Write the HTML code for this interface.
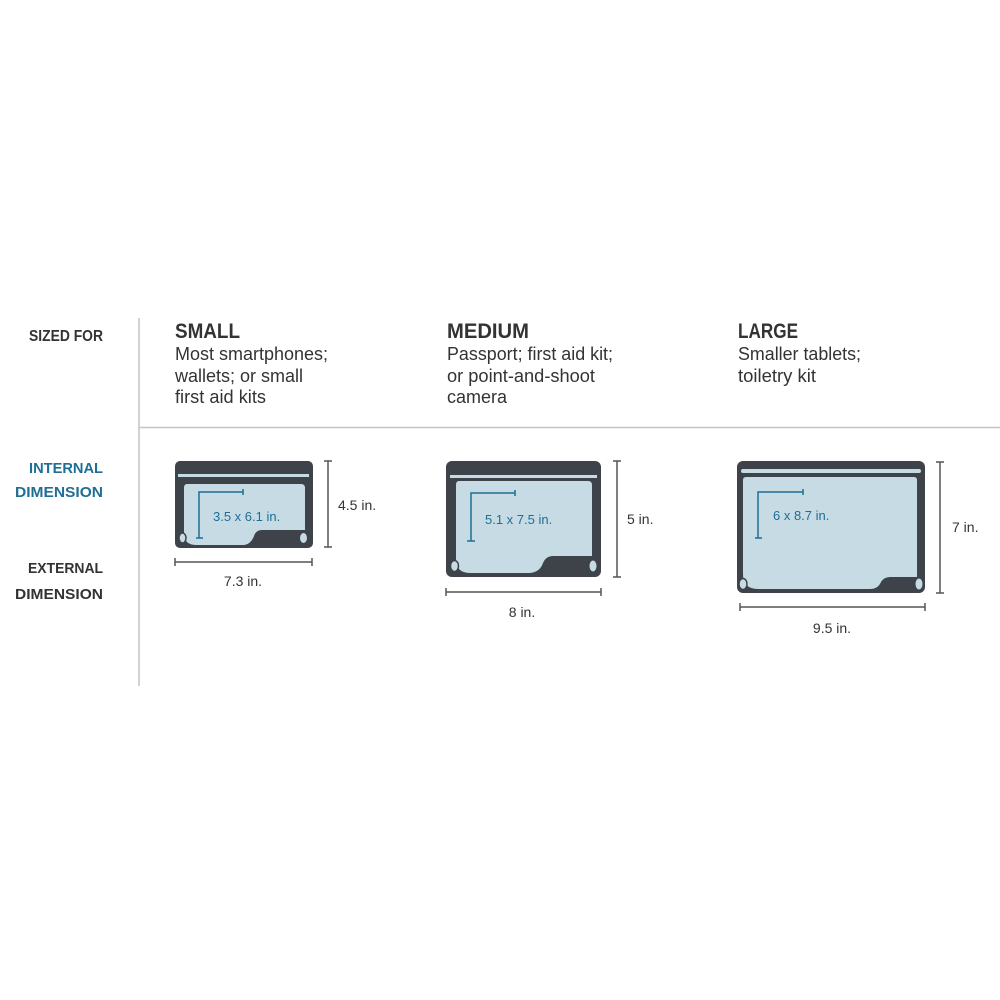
<!DOCTYPE html>
<html><head><style>
html,body{margin:0;padding:0;background:#fff;}
svg{display:block}
text{font-family:"Liberation Sans Narrow","Liberation Sans",sans-serif;}
</style></head><body>
<svg width="1000" height="1000" viewBox="0 0 1000 1000" xmlns="http://www.w3.org/2000/svg">
<rect width="1000" height="1000" fill="#fff"/>
<line x1="139" y1="318" x2="139" y2="686" stroke="#c4c4c4" stroke-width="1.5"/>
<line x1="139" y1="427.5" x2="1000" y2="427.5" stroke="#c4c4c4" stroke-width="1.5"/>

<g fill="#333" font-weight="bold" font-size="16">
<text x="103" y="341" text-anchor="end" textLength="74" lengthAdjust="spacingAndGlyphs">SIZED FOR</text>
</g>
<g fill="#1f6e96" font-weight="bold" font-size="15" text-anchor="end">
<text x="103" y="473" textLength="74" lengthAdjust="spacingAndGlyphs">INTERNAL</text>
<text x="103" y="497" textLength="88" lengthAdjust="spacingAndGlyphs">DIMENSION</text>
</g>
<g fill="#333" font-weight="bold" font-size="15" text-anchor="end">
<text x="103" y="573" textLength="75" lengthAdjust="spacingAndGlyphs">EXTERNAL</text>
<text x="103" y="599" textLength="88" lengthAdjust="spacingAndGlyphs">DIMENSION</text>
</g>

<g fill="#333" font-weight="bold" font-size="21">
<text x="175" y="338" textLength="65" lengthAdjust="spacingAndGlyphs">SMALL</text>
<text x="447" y="338" textLength="82" lengthAdjust="spacingAndGlyphs">MEDIUM</text>
<text x="738" y="338" textLength="60" lengthAdjust="spacingAndGlyphs">LARGE</text>
</g>
<g fill="#333" font-size="18">
<text x="175" y="360" textLength="153" lengthAdjust="spacingAndGlyphs">Most smartphones;</text>
<text x="175" y="382" textLength="128" lengthAdjust="spacingAndGlyphs">wallets; or small</text>
<text x="175" y="403" textLength="91" lengthAdjust="spacingAndGlyphs">first aid kits</text>
<text x="447" y="360" textLength="166" lengthAdjust="spacingAndGlyphs">Passport; first aid kit;</text>
<text x="447" y="382" textLength="148" lengthAdjust="spacingAndGlyphs">or point-and-shoot</text>
<text x="447" y="403" textLength="60" lengthAdjust="spacingAndGlyphs">camera</text>
<text x="738" y="360" textLength="123" lengthAdjust="spacingAndGlyphs">Smaller tablets;</text>
<text x="738" y="382" textLength="78" lengthAdjust="spacingAndGlyphs">toiletry kit</text>
</g>

<!-- SMALL -->
<rect x="175" y="461" width="138" height="87" rx="5" fill="#3d4349"/>
<rect x="178" y="474" width="131" height="3" fill="#c7dbe4"/>
<path d="M187 484 H301 Q305 484 305 488 V530 H262 Q256 530 254 536 Q251 544 244 545 H197 Q184 545 184 534 V488 Q184 484 187 484 Z" fill="#c7dbe4"/>
<ellipse cx="182.5" cy="538" rx="3.5" ry="5" fill="#c7dbe4" stroke="#3d4349" stroke-width="1.5"/>
<ellipse cx="303.5" cy="538" rx="3.5" ry="5" fill="#c7dbe4"/>
<g stroke="#1f6e96" stroke-width="1.5" fill="none">
<path d="M243 489 V495 M243 492 H199 V538 M196 538 H203"/>
</g>
<text x="213" y="521" font-size="13" fill="#1f6e96" font-family="Liberation Sans,sans-serif">3.5 x 6.1 in.</text>
<g stroke="#555" stroke-width="1.5">
<path d="M328 461 V547 M324 461 H332 M324 547 H332"/>
<path d="M175 562 H312 M175 558 V566 M312 558 V566"/>
</g>
<text x="338" y="510" font-size="14" fill="#333" font-family="Liberation Sans,sans-serif">4.5 in.</text>
<text x="243" y="586" font-size="14" fill="#333" text-anchor="middle" font-family="Liberation Sans,sans-serif">7.3 in.</text>

<!-- MEDIUM -->
<rect x="446" y="461" width="155" height="116" rx="6" fill="#3d4349"/>
<rect x="450" y="475" width="147" height="3" fill="#c7dbe4"/>
<path d="M459 481 H588 Q592 481 592 485 V556 H553 Q546 556 543 563 Q540 572 530 573 H470 Q456 573 456 559 V485 Q456 481 459 481 Z" fill="#c7dbe4"/>
<ellipse cx="454.5" cy="566" rx="4" ry="5.5" fill="#c7dbe4" stroke="#3d4349" stroke-width="1.5"/>
<ellipse cx="593" cy="566" rx="3.5" ry="5.5" fill="#c7dbe4"/>
<g stroke="#1f6e96" stroke-width="1.5" fill="none">
<path d="M515 490 V496 M515 493 H471 V541 M467 541 H475"/>
</g>
<text x="485" y="524" font-size="13" fill="#1f6e96" font-family="Liberation Sans,sans-serif">5.1 x 7.5 in.</text>
<g stroke="#555" stroke-width="1.5">
<path d="M617 461 V577 M613 461 H621 M613 577 H621"/>
<path d="M446 592 H601 M446 588 V596 M601 588 V596"/>
</g>
<text x="627" y="524" font-size="14" fill="#333" font-family="Liberation Sans,sans-serif">5 in.</text>
<text x="522" y="617" font-size="14" fill="#333" text-anchor="middle" font-family="Liberation Sans,sans-serif">8 in.</text>

<!-- LARGE -->
<rect x="737" y="461" width="188" height="132" rx="6" fill="#3d4349"/>
<rect x="741" y="469" width="180" height="4" rx="2" fill="#c7dbe4"/>
<path d="M746 477 H914 Q917 477 917 480 V577 H890 Q884 577 881 582 Q878 589 870 589 H758 Q743 589 743 574 V480 Q743 477 746 477 Z" fill="#c7dbe4"/>
<ellipse cx="743" cy="584" rx="4" ry="5.5" fill="#c7dbe4" stroke="#3d4349" stroke-width="1.5"/>
<ellipse cx="919" cy="584" rx="3.5" ry="5.5" fill="#c7dbe4"/>
<g stroke="#1f6e96" stroke-width="1.5" fill="none">
<path d="M803 489 V495 M803 492 H758 V538 M755 538 H762"/>
</g>
<text x="773" y="520" font-size="13" fill="#1f6e96" font-family="Liberation Sans,sans-serif">6 x 8.7 in.</text>
<g stroke="#555" stroke-width="1.5">
<path d="M940 462 V593 M936 462 H944 M936 593 H944"/>
<path d="M740 607 H925 M740 603 V611 M925 603 V611"/>
</g>
<text x="952" y="532" font-size="14" fill="#333" font-family="Liberation Sans,sans-serif">7 in.</text>
<text x="832" y="633" font-size="14" fill="#333" text-anchor="middle" font-family="Liberation Sans,sans-serif">9.5 in.</text>
</svg>
</body></html>
